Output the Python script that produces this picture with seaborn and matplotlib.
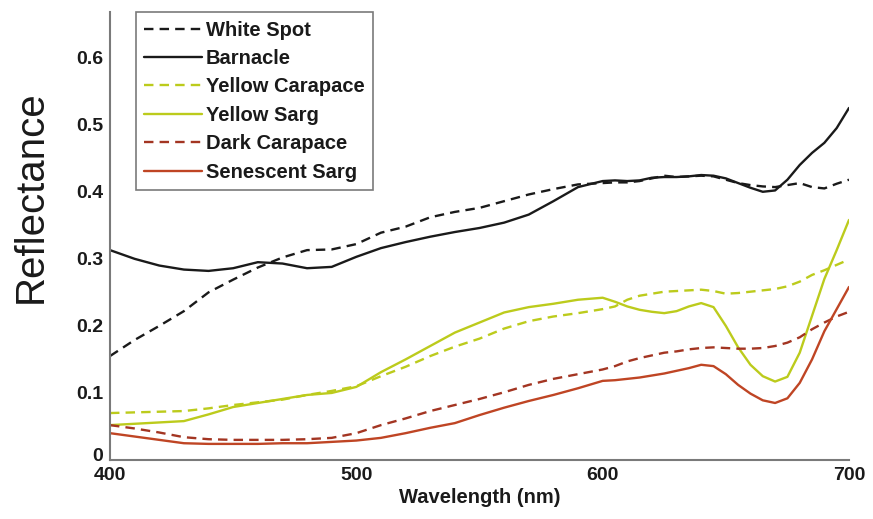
import matplotlib
matplotlib.use("Agg")
import matplotlib.pyplot as plt
import matplotlib.transforms as mtransforms
import seaborn as sns
import pandas as pd
from matplotlib.ticker import FuncFormatter

# Wavelength grid (nm): 10 nm steps up to 600, 5 nm steps in the red edge
wavelength = [400, 410, 420, 430, 440, 450, 460, 470, 480, 490, 500,
              510, 520, 530, 540, 550, 560, 570, 580, 590, 600,
              605, 610, 615, 620, 625, 630, 635, 640, 645, 650,
              655, 660, 665, 670, 675, 680, 685, 690, 695, 700]

white_spot = [0.155, 0.179, 0.200, 0.222, 0.250, 0.269, 0.287, 0.302, 0.313, 0.314, 0.322,
              0.339, 0.348, 0.362, 0.370, 0.376, 0.386, 0.396, 0.404, 0.411, 0.413,
              0.414, 0.414, 0.416, 0.420, 0.424, 0.422, 0.423, 0.424, 0.423, 0.418,
              0.413, 0.410, 0.408, 0.407, 0.410, 0.413, 0.407, 0.405, 0.412, 0.418]

barnacle = [0.313, 0.300, 0.290, 0.284, 0.282, 0.286, 0.295, 0.293, 0.286, 0.288, 0.303,
            0.316, 0.325, 0.333, 0.340, 0.346, 0.354, 0.366, 0.386, 0.407, 0.416,
            0.417, 0.416, 0.417, 0.421, 0.422, 0.422, 0.423, 0.425, 0.424, 0.420,
            0.413, 0.406, 0.400, 0.402, 0.418, 0.440, 0.458, 0.473, 0.495, 0.525]

yellow_carapace = [0.070, 0.071, 0.072, 0.073, 0.077, 0.082, 0.086, 0.090, 0.097, 0.103, 0.110,
                   0.125, 0.139, 0.155, 0.169, 0.181, 0.196, 0.207, 0.214, 0.219, 0.225,
                   0.229, 0.239, 0.245, 0.248, 0.251, 0.252, 0.253, 0.254, 0.252, 0.248,
                   0.249, 0.251, 0.253, 0.255, 0.259, 0.266, 0.276, 0.283, 0.291, 0.299]

yellow_sarg = [0.052, 0.054, 0.056, 0.058, 0.068, 0.079, 0.085, 0.091, 0.097, 0.100, 0.109,
               0.131, 0.150, 0.170, 0.190, 0.205, 0.220, 0.228, 0.233, 0.239, 0.242,
               0.236, 0.229, 0.224, 0.221, 0.219, 0.222, 0.229, 0.234, 0.228, 0.200,
               0.168, 0.142, 0.125, 0.117, 0.124, 0.160, 0.215, 0.270, 0.313, 0.358]

dark_carapace = [0.052, 0.047, 0.041, 0.034, 0.031, 0.030, 0.030, 0.030, 0.031, 0.033, 0.040,
                 0.052, 0.062, 0.073, 0.082, 0.091, 0.101, 0.112, 0.121, 0.128, 0.135,
                 0.140, 0.147, 0.152, 0.156, 0.160, 0.162, 0.165, 0.167, 0.168, 0.167,
                 0.166, 0.166, 0.167, 0.170, 0.175, 0.183, 0.195, 0.205, 0.214, 0.221]

senescent_sarg = [0.040, 0.035, 0.030, 0.025, 0.024, 0.024, 0.024, 0.025, 0.025, 0.027, 0.029,
                  0.033, 0.040, 0.048, 0.055, 0.067, 0.078, 0.088, 0.097, 0.107, 0.118,
                  0.119, 0.121, 0.123, 0.126, 0.129, 0.133, 0.137, 0.142, 0.140, 0.128,
                  0.112, 0.099, 0.089, 0.085, 0.092, 0.115, 0.150, 0.192, 0.225, 0.258]

labels = ["White Spot", "Barnacle", "Yellow Carapace", "Yellow Sarg",
          "Dark Carapace", "Senescent Sarg"]
series = [white_spot, barnacle, yellow_carapace, yellow_sarg,
          dark_carapace, senescent_sarg]

x_ticks = [400, 500, 600, 700]
y_ticks = [0, 0.1, 0.2, 0.3, 0.4, 0.5, 0.6]

colors = {"White Spot": "#1a1a1a", "Barnacle": "#1a1a1a",
          "Yellow Carapace": "#bccb1c", "Yellow Sarg": "#bccb1c",
          "Dark Carapace": "#a33522", "Senescent Sarg": "#bf4524"}
dashed = {"White Spot", "Yellow Carapace", "Dark Carapace"}

df = pd.concat(
    [pd.DataFrame({"Wavelength": wavelength, "Reflectance": vals, "Sample": name})
     for name, vals in zip(labels, series)],
    ignore_index=True,
)

sns.set_style("white")
plt.rcParams["font.family"] = ["Liberation Sans", "DejaVu Sans"]

fig = plt.figure(figsize=(8.73, 5.19), dpi=100)
ax = fig.add_axes([0.126, 0.1137, 0.8465, 0.863])

dash_map = {name: ((4, 2.6) if name in dashed else "") for name in labels}
sns.lineplot(data=df, x="Wavelength", y="Reflectance", hue="Sample",
             style="Sample", hue_order=labels, style_order=labels,
             palette=colors, dashes=dash_map, linewidth=1.7, ax=ax,
             legend=True)

ax.set_xlim(400, 700)
ax.set_ylim(0, 0.668)
ax.set_xticks(x_ticks)
ax.set_yticks(y_ticks)
ax.yaxis.set_major_formatter(FuncFormatter(lambda v, p: "0" if v == 0 else f"{v:g}"))

for side in ("top", "right"):
    ax.spines[side].set_visible(False)
for side in ("left", "bottom"):
    ax.spines[side].set_color("#7a7a7a")
    ax.spines[side].set_linewidth(1.5)

ax.tick_params(axis="both", direction="in", length=4, width=1, color="#7a7a7a",
               labelsize=14, pad=5)
for lab in ax.get_xticklabels() + ax.get_yticklabels():
    lab.set_fontweight("bold")
    lab.set_color("#1a1a1a")

# lift the "0" on the y axis a little so it sits just above the "400"
zero_tick = ax.yaxis.get_major_ticks()[0]
lift = mtransforms.ScaledTranslation(0, 4 / 72, fig.dpi_scale_trans)
zero_tick.label1.set_transform(zero_tick.label1.get_transform() + lift)

ax.set_xlabel("Wavelength (nm)", fontsize=14.5, fontweight="bold", color="#1a1a1a",
              labelpad=3)
ax.set_ylabel("Reflectance", fontsize=29, color="#1a1a1a")
ax.yaxis.set_label_coords(-0.082, 0.587)

handles, leg_labels = ax.get_legend_handles_labels()
leg = ax.legend(handles, leg_labels, loc="upper left", bbox_to_anchor=(0.035, 1.0),
                borderaxespad=0, frameon=True, fancybox=False, framealpha=1,
                edgecolor="#7a7a7a", handlelength=2.85, handletextpad=0.2,
                labelspacing=0.47, borderpad=0.42,
                prop={"size": 14.5, "weight": "bold"})
leg.get_frame().set_linewidth(1.2)
for t in leg.get_texts():
    t.set_color("#1a1a1a")

fig.savefig("out.png", dpi=100, facecolor="white")
